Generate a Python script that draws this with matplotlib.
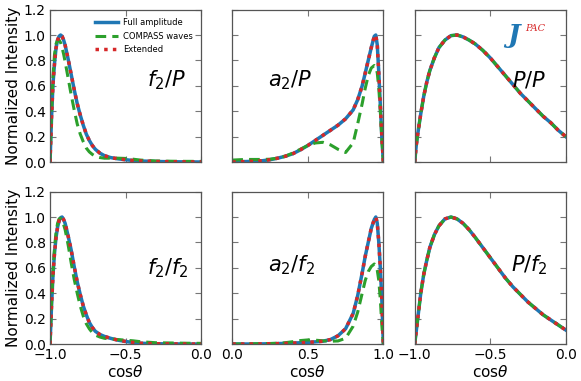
import numpy as np
import matplotlib
matplotlib.use('Agg')
import matplotlib.pyplot as plt

# x grids
x_f2 = [-1.0, -0.99, -0.98, -0.97, -0.96, -0.95, -0.94, -0.93, -0.92, -0.91, -0.9,
        -0.88, -0.86, -0.84, -0.82, -0.8, -0.78, -0.76, -0.74, -0.72, -0.7, -0.67,
        -0.64, -0.6, -0.55, -0.5, -0.45, -0.4, -0.3, -0.2, -0.1, 0.0]
x_a2 = [0.0, 0.05, 0.1, 0.15, 0.2, 0.25, 0.3, 0.35, 0.4, 0.45, 0.5, 0.55, 0.6, 0.65,
        0.7, 0.75, 0.8, 0.83, 0.86, 0.88, 0.9, 0.92, 0.94, 0.95, 0.96, 0.97, 0.98, 0.99, 1.0]
x_p = [-1.0, -0.99, -0.98, -0.96, -0.94, -0.92, -0.9, -0.87, -0.84, -0.8, -0.76, -0.72,
       -0.68, -0.64, -0.6, -0.55, -0.5, -0.45, -0.4, -0.35, -0.3, -0.25, -0.2, -0.15,
       -0.1, -0.05, 0.0]

# f2/P
full_f2P = [0.0, 0.35, 0.62, 0.78, 0.9, 0.96, 0.99, 1.0, 0.99, 0.96, 0.92,
            0.81, 0.69, 0.57, 0.46, 0.37, 0.29, 0.22, 0.17, 0.13, 0.10, 0.07,
            0.05, 0.035, 0.025, 0.018, 0.012, 0.008, 0.004, 0.002, 0.001, 0.0]
comp_f2P = [0.0, 0.4, 0.68, 0.85, 0.93, 0.96, 0.96, 0.94, 0.9, 0.85, 0.79,
            0.66, 0.53, 0.41, 0.3, 0.22, 0.16, 0.11, 0.08, 0.06, 0.045, 0.035,
            0.03, 0.03, 0.03, 0.028, 0.022, 0.015, 0.008, 0.006, 0.005, 0.005]
# a2/P
full_a2P = [0.0, 0.002, 0.004, 0.006, 0.01, 0.018, 0.03, 0.045, 0.065, 0.095, 0.13, 0.17,
            0.21, 0.25, 0.29, 0.34, 0.41, 0.49, 0.6, 0.7, 0.8, 0.9, 0.99, 1.0, 0.92,
            0.7, 0.45, 0.2, 0.0]
comp_a2P = [0.015, 0.018, 0.02, 0.02, 0.02, 0.022, 0.03, 0.045, 0.07, 0.1, 0.13, 0.15,
            0.155, 0.135, 0.1, 0.075, 0.15, 0.3, 0.46, 0.58, 0.68, 0.74, 0.76, 0.75,
            0.7, 0.58, 0.4, 0.18, 0.0]
# P/P
full_PP = [0.0, 0.13, 0.22, 0.38, 0.52, 0.63, 0.72, 0.82, 0.9, 0.96, 0.995, 1.0,
           0.985, 0.96, 0.93, 0.88, 0.82, 0.75, 0.68, 0.61, 0.54, 0.48, 0.42, 0.36,
           0.31, 0.25, 0.2]
# f2/f2
full_f2f2 = [0.0, 0.3, 0.55, 0.72, 0.84, 0.92, 0.97, 0.995, 1.0, 0.98, 0.95,
             0.85, 0.74, 0.61, 0.49, 0.39, 0.3, 0.23, 0.17, 0.13, 0.1, 0.075,
             0.06, 0.045, 0.03, 0.02, 0.012, 0.006, 0.002, 0.001, 0.0, 0.0]
comp_f2f2 = [0.0, 0.32, 0.58, 0.76, 0.88, 0.95, 0.985, 0.99, 0.97, 0.94, 0.9,
             0.78, 0.64, 0.51, 0.4, 0.3, 0.22, 0.16, 0.12, 0.09, 0.07, 0.055,
             0.045, 0.04, 0.035, 0.03, 0.025, 0.018, 0.01, 0.008, 0.006, 0.005]
# a2/f2
full_a2f2 = [0.0, 0.0, 0.0, 0.0, 0.001, 0.002, 0.003, 0.005, 0.007, 0.01, 0.013, 0.017,
             0.022, 0.035, 0.065, 0.12, 0.24, 0.38, 0.56, 0.69, 0.8, 0.91, 0.98, 1.0,
             0.95, 0.8, 0.6, 0.35, 0.0]
comp_a2f2 = [0.0, 0.0, 0.0, 0.002, 0.003, 0.004, 0.006, 0.01, 0.018, 0.027, 0.032, 0.03,
             0.025, 0.022, 0.024, 0.045, 0.14, 0.25, 0.4, 0.5, 0.57, 0.61, 0.63, 0.62,
             0.58, 0.5, 0.35, 0.15, 0.0]
# P/f2
full_Pf2 = [0.0, 0.1, 0.2, 0.4, 0.55, 0.66, 0.76, 0.86, 0.93, 0.985, 1.0, 0.985,
            0.95, 0.9, 0.84, 0.76, 0.68, 0.6, 0.52, 0.45, 0.39, 0.33, 0.28, 0.23,
            0.19, 0.15, 0.11]

panels = [
    (x_f2, full_f2P, comp_f2P, full_f2P, r'$f_2/P$', (0.77, 0.54)),
    (x_a2, full_a2P, comp_a2P, full_a2P, r'$a_2/P$', (0.38, 0.54)),
    (x_p, full_PP, full_PP, full_PP, r'$P/P$', (0.76, 0.54)),
    (x_f2, full_f2f2, comp_f2f2, full_f2f2, r'$f_2/f_2$', (0.78, 0.50)),
    (x_a2, full_a2f2, comp_a2f2, full_a2f2, r'$a_2/f_2$', (0.39, 0.52)),
    (x_p, full_Pf2, full_Pf2, full_Pf2, r'$P/f_2$', (0.76, 0.52)),
]

blue = '#1f77b4'
green = '#2ca02c'
red = '#d62728'

fig = plt.figure(figsize=(5.81, 3.81), dpi=100)
lefts = [0.0861, 0.3998, 0.7138]
bottoms = [0.5748, 0.0971]
w, h = 0.2600, 0.4000

for i, (x, full, comp, ext, label, pos) in enumerate(panels):
    row, col = i // 3, i % 3
    ax = fig.add_axes([lefts[col], bottoms[row], w, h])
    ax.plot(x, full, color=blue, lw=2.5, label='Full amplitude')
    ax.plot(x, comp, color=green, lw=2.2, ls=(0, (3.5, 2)), label='COMPASS waves')
    ax.plot(x, ext, color=red, lw=2.5, ls=(0, (1, 1.5)), label='Extended')
    if col == 1:
        ax.set_xlim(0, 1)
        ax.set_xticks([0.0, 0.5, 1.0])
    else:
        ax.set_xlim(-1, 0)
        ax.set_xticks([-1.0, -0.5, 0.0])
    ax.set_ylim(0, 1.2)
    ax.set_yticks([0.0, 0.2, 0.4, 0.6, 0.8, 1.0, 1.2])
    ax.tick_params(direction='in', top=True, right=True, length=4, width=0.8,
                   color='#777777', labelsize=10, pad=3)
    for s in ax.spines.values():
        s.set_color('#555555')
        s.set_linewidth(0.9)
    if col != 0:
        ax.set_yticklabels([])
    else:
        ax.set_ylabel('Normalized Intensity', fontsize=11, labelpad=2)
    if row == 0:
        ax.set_xticklabels([])
    else:
        ax.set_xlabel(r'cos$\theta$', fontsize=11, labelpad=1)
    ax.text(pos[0], pos[1], label, transform=ax.transAxes, fontsize=15,
            ha='center', va='center')
    if i == 0:
        ax.legend(loc='upper right', frameon=False, fontsize=6, handlelength=2.7,
                  handletextpad=0.6, borderaxespad=0.6, labelspacing=0.55,
                  bbox_to_anchor=(1.0, 1.0))
    if i == 2:
        ax.text(0.65, 0.83, 'J', transform=ax.transAxes, fontsize=19, color=blue,
                family='DejaVu Serif', style='italic', fontweight='bold',
                ha='center', va='center')
        ax.text(0.80, 0.875, 'PAC', transform=ax.transAxes, fontsize=7, color=red,
                family='DejaVu Serif', style='italic', ha='center', va='center')

fig.savefig('out.png', dpi=100)
